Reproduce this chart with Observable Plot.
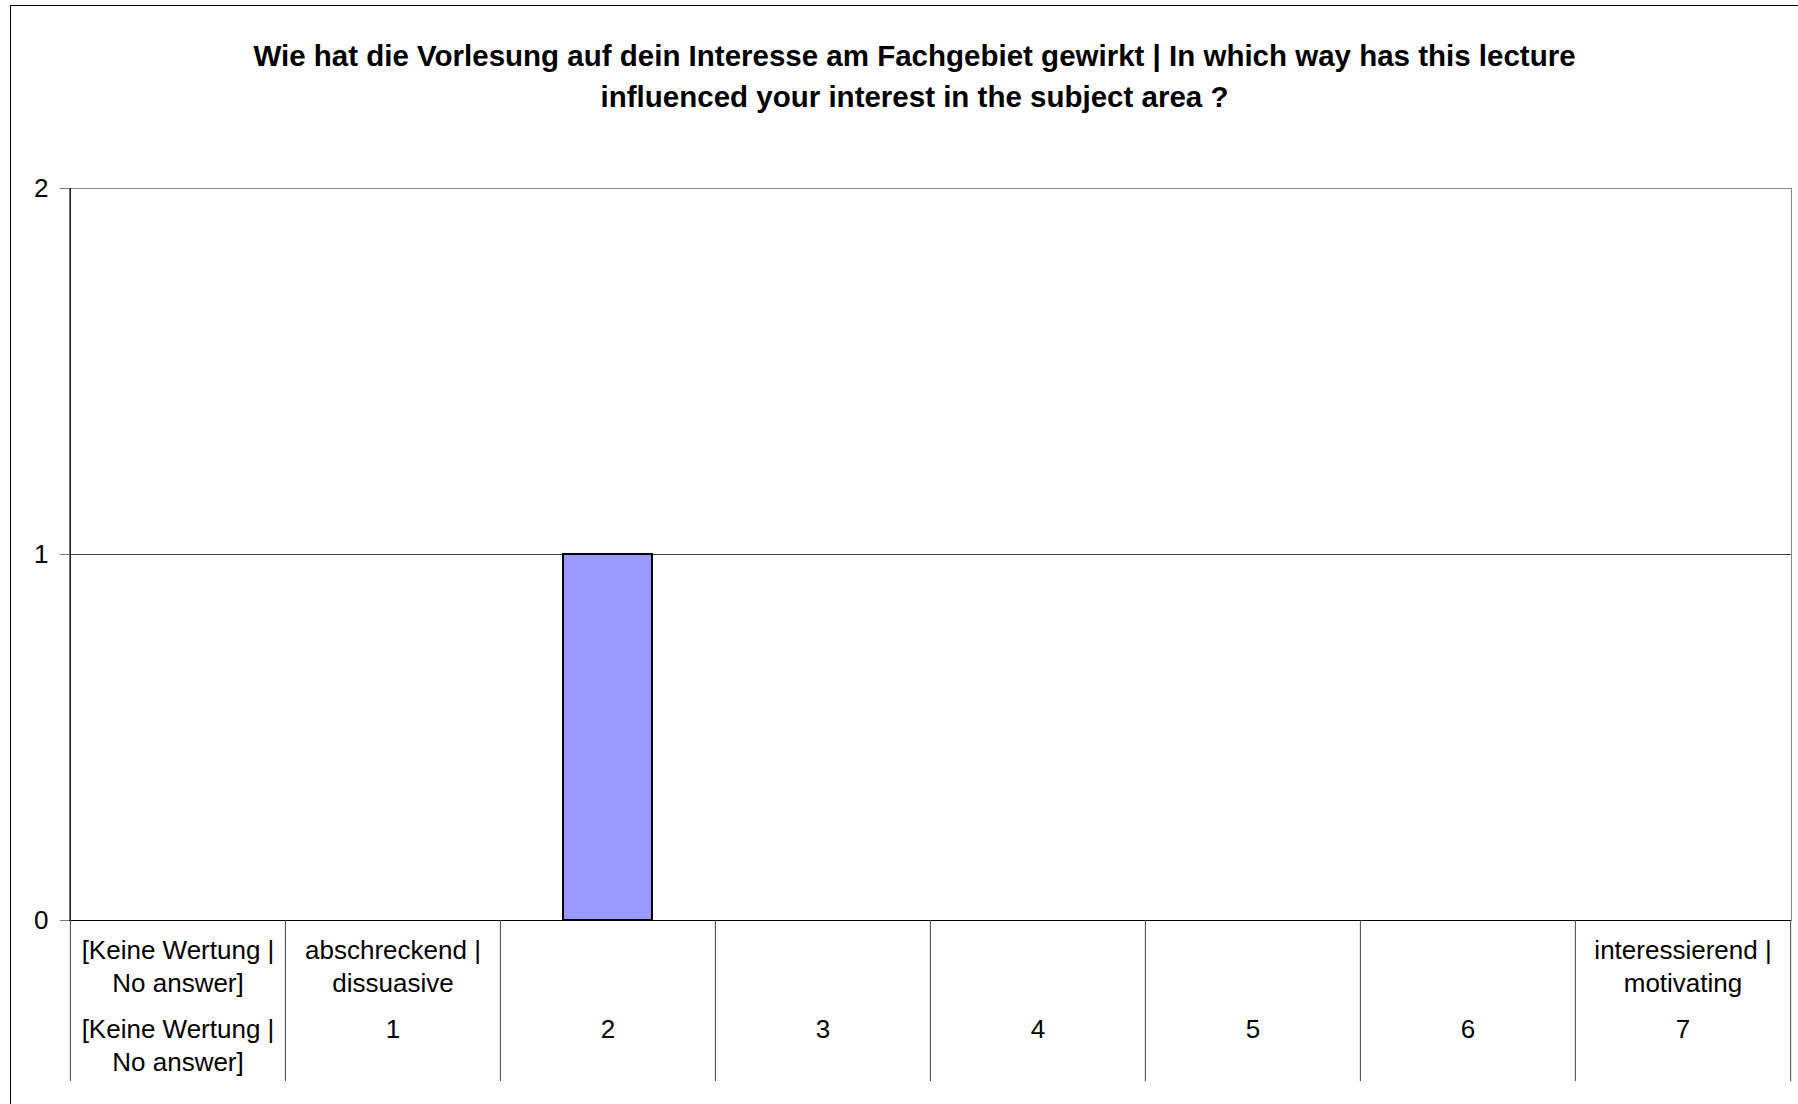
<!DOCTYPE html>
<html><head><meta charset="utf-8">
<script src="https://cdn.jsdelivr.net/npm/d3@7"></script>
<script src="https://cdn.jsdelivr.net/npm/@observablehq/plot@0.6"></script>
<style>
html,body{margin:0;padding:0;background:#fff;overflow:hidden;width:1798px;height:1104px;}
#border{position:absolute;left:10px;top:5px;width:2000px;height:2000px;border-left:1px solid #000;border-top:1px solid #000;}
#chart{position:absolute;left:0;top:0;}
</style></head><body>
<div id="border"></div>
<div id="chart"></div>
<script>
const categories = ["[Keine Wertung | No answer]","1","2","3","4","5","6","7"];
const counts = [0,0,1,0,0,0,0,0];
const scaleLabels = ["[Keine Wertung |\nNo answer]","abschreckend |\ndissuasive","","","","","","interessierend |\nmotivating"];
const valueLabels = ["[Keine Wertung |\nNo answer]","1","2","3","4","5","6","7"];
const yTicks = [0,1,2];
const titleLines = ["Wie hat die Vorlesung auf dein Interesse am Fachgebiet gewirkt | In which way has this lecture","influenced your interest in the subject area ?"];

const W = 1798, H = 1104;
const mL = 69, mR = 7, mT = 188, mB = 184;
const step = (W - mL - mR) / categories.length;
const data = categories.map((c, i) => ({cat: c, count: counts[i]}));
const font = "'Liberation Sans', Arial, sans-serif";

const chart = Plot.plot({
  width: W, height: H,
  marginLeft: mL, marginRight: mR, marginTop: mT, marginBottom: mB,
  style: {fontFamily: font, fontSize: "26px", background: "transparent", color: "#000"},
  x: {domain: categories, paddingInner: 0.586, paddingOuter: 0.293, axis: null},
  y: {domain: [0, 2], axis: null},
  marks: [
    Plot.frame({stroke: "#888"}),
    Plot.gridY([1], {stroke: "#444", strokeOpacity: 1}),
    Plot.barY(data.filter(d => d.count > 0), {x: "cat", y: "count", fill: "#9999ff", stroke: "#000", strokeWidth: 2}),
    Plot.ruleY([0], {stroke: "#000"}),
    Plot.ruleX([categories[0]], {x: d => d, y1: 2, y2: 0, dx: -step / 2, stroke: "#000"}),
    Plot.ruleX(categories, {x: d => d, y1: 0, y2: -0.44, dx: -step / 2, stroke: "#444"}),
    Plot.ruleX([categories[categories.length - 1]], {x: d => d, y1: 0, y2: -0.44, dx: step / 2, stroke: "#444"}),
    Plot.axisY(yTicks, {tickSize: 9, tickPadding: 12, stroke: "#777", fill: "#000", fontSize: 26, label: null, tickFormat: d => String(d)}),
    Plot.text(categories, {x: d => d, text: (d, i) => scaleLabels[i], frameAnchor: "bottom", lineAnchor: "top", dy: 15.1, lineHeight: 1.27, fontSize: 26, fill: "#000"}),
    Plot.text(categories, {x: d => d, text: (d, i) => valueLabels[i], frameAnchor: "bottom", lineAnchor: "top", dy: 93.6, lineHeight: 1.27, fontSize: 26, fill: "#000"}),
    Plot.text([titleLines.join("\n")], {text: d => d, frameAnchor: "top", dx: -16, dy: -82, lineAnchor: "bottom", lineHeight: 1.39, fontSize: 29.5, fontWeight: "bold", fill: "#000"})
  ]
});
document.getElementById("chart").appendChild(chart);
</script>
</body></html>
